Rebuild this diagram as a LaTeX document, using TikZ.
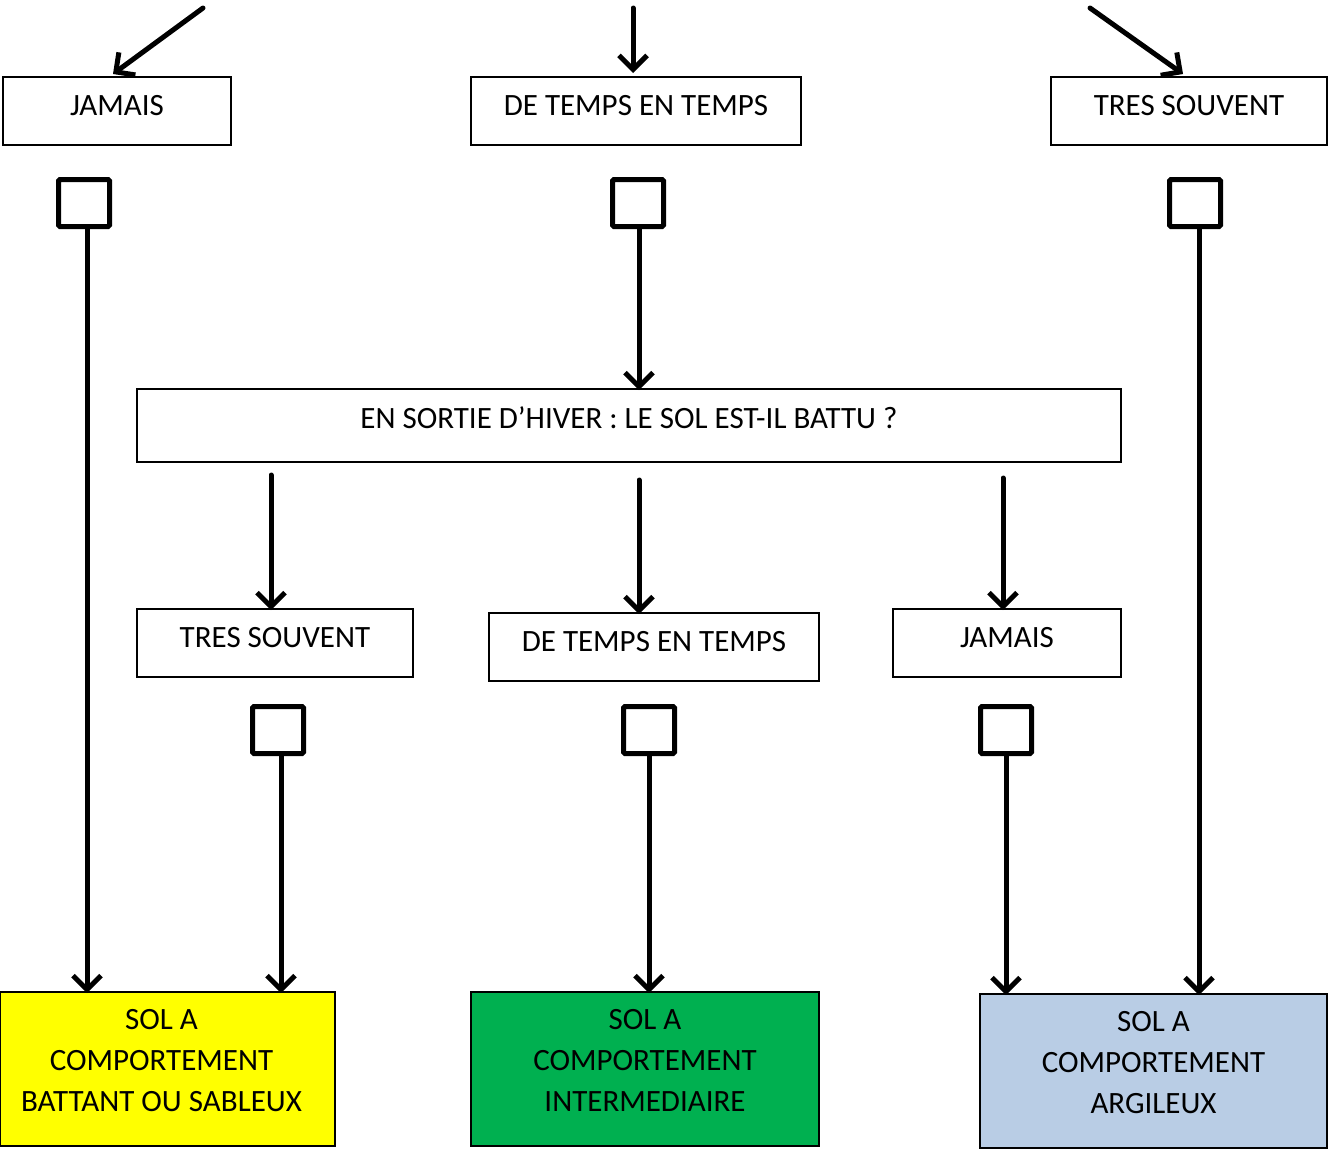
\documentclass[tikz,border=0pt]{standalone}
\usepackage{fontspec}
\setmainfont{Carlito}
\usetikzlibrary{arrows.meta}
\definecolor{yel}{HTML}{FFFF00}
\definecolor{grn}{HTML}{00B050}
\definecolor{blu}{HTML}{B9CDE5}
\newcommand{\threelines}[3]{\raisebox{0pt}[\height][\dimexpr\depth+13pt\relax]{\setlength{\tabcolsep}{0pt}\begin{tabular}{c}#1\\#2\\#3\end{tabular}}}
\begin{document}
\begin{tikzpicture}[x=1pt,y=-1pt,
  box/.style={draw, line width=1.8pt, inner sep=0pt, font=\fontsize{31}{41}\selectfont, align=center},
  chk/.style={draw, line width=5pt, minimum width=51pt, minimum height=47pt, inner sep=0pt, rounded corners=1.5pt},
  arr/.style={line width=5pt, -{Straight Barb[length=14pt,width=28pt,line width=5pt]}, line cap=round, line join=round}]
\useasboundingbox (0,0) rectangle (1329,1149);
% top-level
\node[box, minimum width=228pt, minimum height=68pt] (j1) at (117,111) {\raisebox{11pt}{JAMAIS}};
\node[box, minimum width=330pt, minimum height=68pt] (d1) at (636,111) {\raisebox{11pt}{DE TEMPS EN TEMPS}};
\node[box, minimum width=276pt, minimum height=68pt] (t1) at (1189,111) {\raisebox{11pt}{TRES SOUVENT}};
\coordinate (s1) at (203,8);
\coordinate (s2) at (633,8);
\coordinate (s3) at (1090,8);
\draw[arr] (s1) -- (113,74);
\draw[arr] (s2) -- (633,73);
\draw[arr] (s3) -- (1183,74);
\node[chk] (c1) at (84,203) {};
\node[chk] (c2) at (638,203) {};
\node[chk] (c3) at (1195,203) {};
% question
\node[box, minimum width=984pt, minimum height=73pt] (q) at (629,425.5) {\raisebox{15pt}{EN SORTIE D’HIVER : LE SOL EST-IL BATTU ?}};
\draw[arr] ([xshift=1pt]c2.south) -- ([xshift=1pt,yshift=-2pt]c2.south |- q.north);
% second level
\coordinate (a1) at (271,475);
\coordinate (a2) at (639,480);
\coordinate (a3) at (1003,478);
\node[box, minimum width=276pt, minimum height=68pt] (t2) at (275,643) {\raisebox{11pt}{TRES SOUVENT}};
\node[box, minimum width=330pt, minimum height=68pt] (d2) at (654,647) {\raisebox{11pt}{DE TEMPS EN TEMPS}};
\node[box, minimum width=228pt, minimum height=68pt] (j2) at (1007,643) {\raisebox{11pt}{JAMAIS}};
\draw[arr] (a1) -- ([yshift=-2pt]a1 |- t2.north);
\draw[arr] (a2) -- ([yshift=-2pt]a2 |- d2.north);
\draw[arr] (a3) -- ([yshift=-2pt]a3 |- j2.north);
\node[chk] (c4) at (278,730) {};
\node[chk] (c5) at (649,730) {};
\node[chk] (c6) at (1006,730) {};
% results
\node[box, fill=yel, minimum width=335pt, minimum height=154pt] (r1) at (167.5,1069) {\hspace*{-12pt}\threelines{SOL A}{COMPORTEMENT}{BATTANT OU SABLEUX}};
\node[box, fill=grn, minimum width=348pt, minimum height=154pt] (r2) at (645,1069) {\threelines{SOL A}{COMPORTEMENT}{INTERMEDIAIRE}};
\node[box, fill=blu, minimum width=347pt, minimum height=154pt] (r3) at (1153.5,1071) {\threelines{SOL A}{COMPORTEMENT}{ARGILEUX}};
\draw[arr] ([xshift=3pt]c1.south) -- ([xshift=3pt,yshift=-2pt]c1.south |- r1.north);
\draw[arr] ([xshift=3pt]c4.south) -- ([xshift=3pt,yshift=-2pt]c4.south |- r1.north);
\draw[arr] (c5.south) -- ([yshift=-2pt]c5.south |- r2.north);
\draw[arr] (c6.south) -- ([yshift=-2pt]c6.south |- r3.north);
\draw[arr] ([xshift=4pt]c3.south) -- ([xshift=4pt,yshift=-2pt]c3.south |- r3.north);
\end{tikzpicture}
\end{document}
